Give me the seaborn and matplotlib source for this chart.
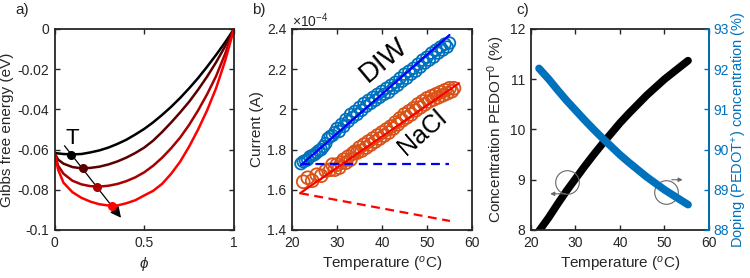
import numpy as np
import pandas as pd
import matplotlib
matplotlib.use('Agg')
import matplotlib.pyplot as plt
from matplotlib.ticker import FuncFormatter
import seaborn as sns

# ---- panel a: Gibbs free energy curves ----
phi = [0, 0.02, 0.05, 0.1, 0.15, 0.2, 0.25, 0.3, 0.35, 0.4, 0.45, 0.5,
       0.55, 0.6, 0.65, 0.7, 0.75, 0.8, 0.85, 0.9, 0.95, 1.0]
g_t1 = [-0.0617, -0.0619, -0.0622, -0.0624, -0.0622, -0.0614, -0.0604, -0.0590, -0.0572, -0.0551, -0.0525,
        -0.0497, -0.0464, -0.0427, -0.0387, -0.0343, -0.0295, -0.0244, -0.0188, -0.0129, -0.0067, 0.0]
g_t2 = [-0.0617, -0.0650, -0.0670, -0.0687, -0.0693, -0.0691, -0.0685, -0.0674, -0.0659, -0.0640, -0.0617,
        -0.0590, -0.0555, -0.0512, -0.0465, -0.0415, -0.0362, -0.0302, -0.0237, -0.0166, -0.0087, 0.0]
g_t3 = [-0.0617, -0.0680, -0.0720, -0.0755, -0.0773, -0.0782, -0.0784, -0.0780, -0.0771, -0.0757, -0.0738,
        -0.0713, -0.0680, -0.0640, -0.0593, -0.0540, -0.0477, -0.0405, -0.0325, -0.0235, -0.0125, 0.0]
g_t4 = [-0.0617, -0.0700, -0.0765, -0.0812, -0.0840, -0.0859, -0.0872, -0.0878, -0.0878, -0.0867, -0.0852,
        -0.0828, -0.0805, -0.0770, -0.0720, -0.0660, -0.0585, -0.0500, -0.0405, -0.0295, -0.0160, 0.0]
min_phi = [0.092, 0.157, 0.235, 0.318]
min_g = [-0.0625, -0.0693, -0.0784, -0.0879]
curve_colors = ['#000000', '#5a0000', '#a80000', '#ff0000']

# ---- panel b: current (x1e-4 A) vs temperature ----
diw_t = [22, 22.5, 23, 23.5, 24, 24.5, 25, 25.5, 26, 26.5, 27, 27.5, 28, 28.5, 29, 29.5, 30, 30.5,
         31, 31.5, 32, 32.5, 33, 33.5, 34, 34.5, 35, 35.5, 36, 36.5, 37, 37.5, 38, 38.5, 39, 39.5,
         40, 40.5, 41, 41.5, 42, 42.5, 43, 43.5, 44, 44.5, 45, 45.5, 46, 46.5, 47, 47.5, 48, 48.5,
         49, 49.5, 50, 50.5, 51, 51.5, 52, 52.5, 53, 53.5, 54, 54.5, 55]
diw_i = [1.73, 1.74, 1.745, 1.75, 1.765, 1.77, 1.775, 1.785, 1.795, 1.80,
         1.815, 1.83, 1.855, 1.865, 1.87, 1.885, 1.905, 1.89, 1.925, 1.915,
         1.95, 1.94, 1.975, 1.96, 1.99, 1.975, 2.01, 1.995, 2.03, 2.015,
         2.045, 2.03, 2.06, 2.045, 2.075, 2.06, 2.09, 2.075, 2.105, 2.085,
         2.12, 2.105, 2.135, 2.12, 2.155, 2.14, 2.175, 2.155, 2.19, 2.175,
         2.205, 2.19, 2.225, 2.21, 2.245, 2.23, 2.26, 2.245, 2.28, 2.26,
         2.295, 2.28, 2.31, 2.295, 2.325, 2.31, 2.33]
nacl_t = [22.5, 23.5, 24.5, 25.5, 26.5, 27.5, 28.5, 29, 29.5, 30, 30.5, 31, 31.5, 32, 32.5, 33, 33.5, 34,
          34.5, 35, 35.5, 36, 36.5, 37, 37.5, 38, 38.5, 39, 39.5, 40, 40.5, 41, 41.5, 42, 42.5, 43, 43.5,
          44, 44.5, 45, 45.5, 46, 46.5, 47, 47.5, 48, 48.5, 49, 49.5, 50, 50.5, 51, 51.5, 52, 52.5, 53,
          53.5, 54, 54.5, 55, 55.5, 56]
nacl_i = [1.64, 1.66, 1.645, 1.675, 1.67, 1.695, 1.70,
          1.725, 1.70, 1.725, 1.71, 1.735, 1.75, 1.735, 1.765, 1.75, 1.78, 1.79,
          1.785, 1.81, 1.795, 1.825, 1.81, 1.84, 1.825, 1.855, 1.84, 1.87,
          1.855, 1.885, 1.87, 1.90, 1.885, 1.915, 1.905, 1.935, 1.925, 1.955,
          1.945, 1.975, 1.96, 1.99, 1.975, 2.005, 1.995, 2.025, 2.01, 2.04,
          2.025, 2.055, 2.04, 2.065, 2.05, 2.075, 2.06, 2.085, 2.07, 2.095,
          2.08, 2.105, 2.09, 2.105]
diw_fit_t, diw_fit_i = [22, 55], [1.723, 2.37]
nacl_fit_t, nacl_fit_i = [21.8, 57.1], [1.583, 2.13]
diw_ref_t, diw_ref_i = [22, 55], [1.727, 1.727]
nacl_ref_t, nacl_ref_i = [21.8, 55.1], [1.583, 1.445]

# ---- panel c: concentrations ----
temp_c = [21.8, 24, 26, 28, 30, 32, 34, 36, 38, 40, 42, 44, 46, 48, 50, 52, 54, 55.3]
pedot0 = [7.98, 8.25, 8.52, 8.78, 9.02, 9.26, 9.49, 9.71, 9.92, 10.13, 10.32, 10.50, 10.68, 10.84,
          11.00, 11.14, 11.28, 11.37]
doping = [92.02, 91.75, 91.48, 91.22, 90.98, 90.74, 90.51, 90.29, 90.08, 89.87, 89.68, 89.50, 89.32,
          89.16, 89.00, 88.86, 88.72, 88.63]

sns.set_style('ticks')
plt.rcParams['font.family'] = ['Liberation Sans', 'DejaVu Sans']
plt.rcParams['mathtext.fontset'] = 'custom'
plt.rcParams['mathtext.rm'] = 'Liberation Sans'
plt.rcParams['mathtext.it'] = 'Liberation Sans:italic'

frame = '#262626'
blue = '#0072BD'
orange = '#D95319'
fmt = FuncFormatter(lambda v, p: '%g' % round(v, 6))

fig = plt.figure(figsize=(7.5, 2.78), dpi=100)
ax_a = fig.add_axes([0.0727, 0.1727, 0.2393, 0.7230])
ax_b = fig.add_axes([0.3893, 0.1727, 0.2400, 0.7230])
ax_c = fig.add_axes([0.7080, 0.1727, 0.2373, 0.7230])


def style(ax, right=True):
    for s in ax.spines.values():
        s.set_color(frame)
        s.set_linewidth(1.3)
    ax.tick_params(direction='in', length=3.5, width=1, color=frame, labelsize=10,
                   labelcolor=frame, top=True, right=right, pad=4)


# panel a
for g, col in zip([g_t1, g_t2, g_t3, g_t4], curve_colors):
    sns.lineplot(x=phi, y=g, ax=ax_a, color=col, linewidth=1.8)
ax_a.annotate('', xy=(0.38, -0.095), xytext=(0.046, -0.057),
              arrowprops=dict(arrowstyle='-|>', color='black', lw=0.9, mutation_scale=16))
for x, y, col in zip(min_phi, min_g, curve_colors):
    ax_a.plot(x, y, 'o', color=col, markersize=5.5, zorder=5)
ax_a.text(0.1, -0.0545, 'T', fontsize=16, ha='center', va='center', color='black')
ax_a.set_xlim(0, 1)
ax_a.set_ylim(-0.1, 0)
ax_a.set_xticks([0, 0.5, 1])
ax_a.set_yticks([0, -0.02, -0.04, -0.06, -0.08, -0.1])
ax_a.xaxis.set_major_formatter(fmt)
ax_a.yaxis.set_major_formatter(fmt)
ax_a.set_xlabel(r'$\phi$', fontsize=11, color=frame)
ax_a.set_ylabel('Gibbs free energy (eV)', fontsize=11, color=frame, labelpad=2)
style(ax_a)

# panel b
sns.scatterplot(x=diw_t, y=diw_i, ax=ax_b, marker='o', s=70, facecolors='none',
                edgecolor=blue, linewidth=1.3)
sns.scatterplot(x=nacl_t, y=nacl_i, ax=ax_b, marker='o', s=85, facecolors='none',
                edgecolor=orange, linewidth=1.3)
sns.lineplot(x=diw_fit_t, y=diw_fit_i, ax=ax_b, color='#0000ff', linewidth=1.6)
sns.lineplot(x=nacl_fit_t, y=nacl_fit_i, ax=ax_b, color='#ff0000', linewidth=1.6)
sns.lineplot(x=diw_ref_t, y=diw_ref_i, ax=ax_b, color='#0000ff', linewidth=1.6, linestyle=(0, (4, 2.5)))
sns.lineplot(x=nacl_ref_t, y=nacl_ref_i, ax=ax_b, color='#ff0000', linewidth=1.6, linestyle=(0, (4, 2.5)))
ax_b.text(40.5, 2.245, 'DIW', fontsize=20, rotation=40, ha='center', va='center',
          rotation_mode='anchor', color='black', zorder=10)
ax_b.text(49.0, 1.885, 'NaCl', fontsize=18, rotation=41, ha='center', va='center',
          rotation_mode='anchor', color='black', zorder=10)
ax_b.text(0.0, 0.995, r'$\times$10$^{-4}$', transform=ax_b.transAxes, fontsize=10, color=frame,
          ha='left', va='bottom')
ax_b.set_xlim(20, 60)
ax_b.set_ylim(1.4, 2.4)
ax_b.set_xticks([20, 30, 40, 50, 60])
ax_b.set_yticks([1.4, 1.6, 1.8, 2.0, 2.2, 2.4])
ax_b.yaxis.set_major_formatter(fmt)
ax_b.set_xlabel('Temperature ($^{o}$C)', fontsize=11, color=frame)
ax_b.set_ylabel('Current (A)', fontsize=11, color=frame, labelpad=2)
style(ax_b)

# panel c
sns.lineplot(x=temp_c, y=pedot0, ax=ax_c, color='black', linewidth=5.5, solid_capstyle='round')
ax_c2 = ax_c.twinx()
sns.lineplot(x=temp_c, y=doping, ax=ax_c2, color=blue, linewidth=5.5, solid_capstyle='round')
ax_c.plot(28.0, 8.96, 'o', markersize=17, mfc='none', mec='#666666', mew=0.8)
ax_c.annotate('', xy=(23.7, 8.72), xytext=(28.4, 8.72),
              arrowprops=dict(arrowstyle='-|>', color='#666666', lw=0.8, mutation_scale=6))
ax_c.plot(50.4, 8.76, 'o', markersize=17, mfc='none', mec='#666666', mew=0.8)
ax_c.annotate('', xy=(54.7, 9.0), xytext=(51.0, 9.0),
              arrowprops=dict(arrowstyle='-|>', color='#666666', lw=0.8, mutation_scale=6))
ax_c.set_xlim(20, 60)
ax_c.set_ylim(8, 12)
ax_c.set_xticks([20, 30, 40, 50, 60])
ax_c.set_yticks([8, 9, 10, 11, 12])
ax_c2.set_ylim(88, 93)
ax_c2.set_yticks([88, 89, 90, 91, 92, 93])
ax_c.set_xlabel('Temperature ($^{o}$C)', fontsize=11, color=frame)
ax_c.set_ylabel('Concentration PEDOT$^{0}$ (%)', fontsize=11, color=frame, labelpad=2)
ax_c2.set_ylabel('Doping (PEDOT$^{+}$) concentration (%)', fontsize=10.5, color=blue, labelpad=1)
style(ax_c, right=False)
for s in ax_c2.spines.values():
    s.set_visible(False)
ax_c2.spines['right'].set_visible(True)
ax_c2.spines['right'].set_color(blue)
ax_c2.spines['right'].set_linewidth(1.3)
ax_c2.tick_params(axis='y', direction='in', length=3.5, width=1, color=blue, labelsize=10,
                  labelcolor=blue, pad=3)

for ax, lab in zip([ax_a, ax_b, ax_c], ['a)', 'b)', 'c)']):
    ax.text(-0.22 if ax is not ax_c else -0.08, 1.06, lab, transform=ax.transAxes,
            fontsize=11, ha='left', va='bottom')

fig.savefig('out.png', dpi=100)
